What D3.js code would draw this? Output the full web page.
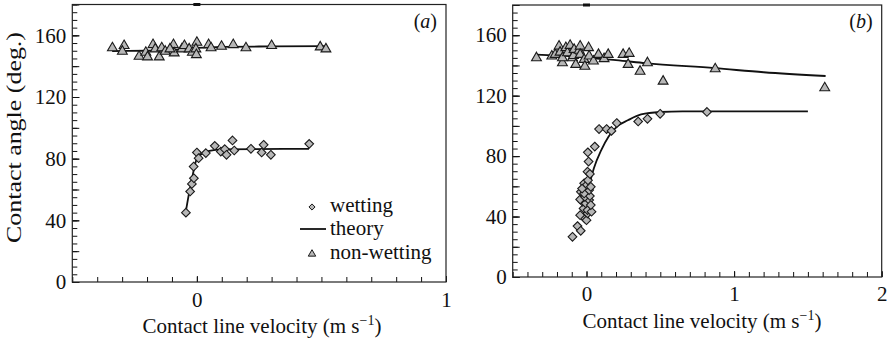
<!DOCTYPE html>
<html><head><meta charset="utf-8">
<script src="https://cdn.jsdelivr.net/npm/d3@7"></script>
<style>
html,body{margin:0;padding:0;background:#fff;}
svg{display:block;}
text{font-family:"Liberation Serif","Times New Roman",serif;fill:#111;}
</style></head>
<body>
<svg id="chart" width="887" height="342"></svg>
<script>
// ---------- data ----------
const yTickLabels = [0, 40, 80, 120, 160];
const xTickLabelsA = [0, 1];
const xTickLabelsB = [0, 1, 2];
const legendLabels = ["wetting", "theory", "non-wetting"];

// panel (a)
const wettingA = [[-0.044,45.0],[-0.027,58.7],[-0.020,63.6],[-0.012,67.3],[-0.013,74.9],[0.000,84.0],[0.007,80.3],[0.036,83.6],[0.072,88.3],[0.096,84.6],[0.112,86.2],[0.119,82.5],[0.143,91.8],[0.150,85.3],[0.217,86.4],[0.260,84.0],[0.268,89.0],[0.297,82.5],[0.451,89.6]];
const nonWettingA = [[-0.339,151.8],[-0.292,153.3],[-0.299,149.6],[-0.232,146.3],[-0.205,148.9],[-0.176,153.9],[-0.198,145.9],[-0.167,151.1],[-0.151,145.9],[-0.141,151.8],[-0.127,149.6],[-0.094,153.9],[-0.091,148.5],[-0.108,151.1],[-0.060,151.1],[-0.050,153.3],[-0.031,151.1],[-0.018,148.9],[0.000,155.4],[-0.004,151.1],[-0.002,147.4],[0.047,153.9],[0.057,151.8],[0.099,152.8],[0.146,153.9],[0.197,151.8],[0.300,153.3],[0.495,152.4],[0.518,151.1]];
const theoryWetA = [[-0.045,45],[-0.032,57],[-0.022,65],[-0.012,73],[0.000,80],[0.02,83],[0.05,85],[0.10,86],[0.45,86.4]];
const theoryNonA = [[-0.34,149.8],[-0.2,150],[-0.1,150.5],[0.0,151.8],[0.1,152.5],[0.3,152.8],[0.52,153]];

// panel (b)
const wettingB = [[-0.095,26.6],[-0.061,33.7],[-0.039,30.6],[-0.012,38.8],[0.000,37.6],[-0.043,40.9],[0.007,42.1],[-0.020,45.4],[0.007,44.3],[0.034,43.2],[-0.027,49.8],[-0.005,48.7],[0.018,50.9],[0.029,47.6],[-0.043,51.3],[-0.011,53.1],[0.023,53.6],[-0.038,56.4],[-0.016,55.3],[0.018,57.5],[-0.016,62.0],[0.002,60.9],[0.029,59.7],[-0.030,58.5],[0.010,64.0],[0.007,69.7],[0.023,68.2],[0.014,76.4],[0.009,82.5],[0.056,86.3],[0.085,97.9],[0.136,97.9],[0.169,96.7],[0.205,101.9],[0.350,102.9],[0.413,104.7],[0.499,108.0],[0.816,109.2]];
const nonWettingB = [[-0.339,145.0],[-0.235,146.1],[-0.212,147.2],[-0.186,152.7],[-0.179,148.7],[-0.163,141.7],[-0.163,145.0],[-0.140,151.7],[-0.129,148.3],[-0.111,153.2],[-0.095,145.0],[-0.088,146.5],[-0.084,150.5],[-0.073,140.6],[-0.050,150.0],[-0.043,152.7],[-0.043,147.2],[-0.016,143.9],[-0.011,139.4],[0.014,151.7],[0.018,146.1],[0.047,142.8],[0.081,147.2],[0.119,144.4],[0.147,147.2],[0.248,147.2],[0.289,147.9],[0.282,140.6],[0.363,136.1],[0.413,141.7],[0.519,129.5],[0.872,137.7],[1.614,125.1]];
const theoryWetB = [[0.005,55],[0.015,60],[0.03,65],[0.05,72],[0.1,84],[0.15,93],[0.21,99.8],[0.28,103.7],[0.37,107.6],[0.5,109.2],[0.65,109.6],[1.5,109.6]];
const theoryNonB = [[-0.34,147.2],[-0.1,146],[0.0,145],[0.2,143.5],[0.4,141.5],[0.87,138.2],[1.2,135.5],[1.62,133]];

// ---------- drawing ----------
const svg = d3.select("#chart");
const FILL = "#b7b7b7", STROKE = "#1a1a1a";
const FS = 21;

function drawPanel(cfg) {
  const x = d3.scaleLinear().domain(cfg.xDomain).range([cfg.left, cfg.right]);
  const y = d3.scaleLinear().domain([0, 180]).range([cfg.bottom, cfg.top]);
  const g = svg.append("g");

  const xMinor = d3.range(Math.round(cfg.xDomain[0]*10), Math.round(cfg.xDomain[1]*10)+1).map(v => v/10);
  const yMinor = d3.range(0, 181, 5);
  g.append("g").attr("transform", `translate(0,${cfg.bottom})`)
    .call(d3.axisBottom(x).tickValues(xMinor).tickSize(-5).tickFormat(""))
    .call(s => s.select(".domain").remove());
  g.append("g").attr("transform", `translate(${cfg.left},0)`)
    .call(d3.axisLeft(y).tickValues(yMinor).tickSize(-5).tickFormat(""))
    .call(s => s.select(".domain").remove());
  g.append("g").attr("transform", `translate(${cfg.left},0)`)
    .call(d3.axisLeft(y).tickValues(d3.range(0,181,20)).tickSize(-7).tickFormat(""))
    .call(s => s.select(".domain").remove());

  const xa = g.append("g").attr("transform", `translate(0,${cfg.bottom})`)
    .call(d3.axisBottom(x).tickValues(cfg.xLabels).tickSize(-6).tickPadding(cfg.xPad).tickFormat(d3.format("d")));
  xa.select(".domain").remove();
  const ya = g.append("g").attr("transform", `translate(${cfg.left},0)`)
    .call(d3.axisLeft(y).tickValues(yTickLabels).tickSize(-7).tickPadding(6).tickFormat(d3.format("d")));
  ya.select(".domain").remove();
  g.selectAll(".tick line").attr("stroke", "#111").attr("stroke-width", 1);
  g.selectAll(".tick text").attr("font-family", "Liberation Serif").attr("font-size", FS).attr("fill", "#111");

  g.append("rect").attr("x", cfg.left).attr("y", cfg.top)
    .attr("width", cfg.right - cfg.left).attr("height", cfg.bottom - cfg.top)
    .attr("fill", "none").attr("stroke", "#222").attr("stroke-width", 1.2);
  g.append("rect").attr("x", x(0) - 3.5).attr("y", cfg.top - 1.5).attr("width", 7).attr("height", 3).attr("fill", "#111");

  const line = d3.line().x(d => x(d[0])).y(d => y(d[1])).curve(d3.curveMonotoneX);
  [cfg.theoryWet, cfg.theoryNon].forEach(data => {
    g.append("path").datum(data).attr("d", line)
      .attr("fill", "none").attr("stroke", "#111").attr("stroke-width", 1.8);
  });

  const diamond = d3.symbol().type(d3.symbolDiamond2).size(48);
  const tri = d3.symbol().type(d3.symbolTriangle).size(42);
  g.append("g").selectAll("path").data(cfg.nonWet).join("path")
    .attr("d", tri).attr("transform", d => `translate(${x(d[0])},${y(d[1])})`)
    .attr("fill", FILL).attr("stroke", STROKE).attr("stroke-width", 1.1);
  g.append("g").selectAll("path").data(cfg.wet).join("path")
    .attr("d", diamond).attr("transform", d => `translate(${x(d[0])},${y(d[1])})`)
    .attr("fill", FILL).attr("stroke", STROKE).attr("stroke-width", 1.1);

  const pl = g.append("text").attr("x", cfg.right - 9).attr("y", 28).attr("text-anchor", "end")
    .attr("font-size", 20);
  pl.append("tspan").text("(");
  pl.append("tspan").attr("font-style", "italic").text(cfg.tag);
  pl.append("tspan").text(")");

  const xt = g.append("text").attr("x", cfg.xTitleX).attr("y", cfg.xTitleY)
    .attr("text-anchor", "middle").attr("font-size", FS);
  xt.append("tspan").text("Contact line velocity (m s");
  xt.append("tspan").attr("font-size", 14).attr("dy", -8).text("\u22121");
  xt.append("tspan").attr("dy", 8).text(")");
  return {x, y, g};
}

drawPanel({left: 72.3, right: 446, top: 4.5, bottom: 282, xDomain: [-0.5, 1], xLabels: xTickLabelsA, xPad: 10,
  wet: wettingA, nonWet: nonWettingA, theoryWet: theoryWetA, theoryNon: theoryNonA, tag: "a", xTitleX: 262, xTitleY: 333});
drawPanel({left: 512.7, right: 881.7, top: 5, bottom: 277, xDomain: [-0.5, 2], xLabels: xTickLabelsB, xPad: 9,
  wet: wettingB, nonWet: nonWettingB, theoryWet: theoryWetB, theoryNon: theoryNonB, tag: "b", xTitleX: 702, xTitleY: 328});

svg.append("text").attr("transform", "translate(21,137.5) rotate(-90)")
  .attr("text-anchor", "middle").attr("font-size", 21)
  .attr("textLength", 211).attr("lengthAdjust", "spacingAndGlyphs")
  .text("Contact angle (deg.)");

const lg = svg.append("g");
lg.append("path").attr("d", d3.symbol().type(d3.symbolDiamond2).size(24)())
  .attr("transform", "translate(312,207)").attr("fill", FILL).attr("stroke", STROKE).attr("stroke-width", 1);
lg.append("line").attr("x1", 300).attr("x2", 326).attr("y1", 229).attr("y2", 229).attr("stroke", "#111").attr("stroke-width", 1.8);
lg.append("path").attr("d", d3.symbol().type(d3.symbolTriangle).size(24)())
  .attr("transform", "translate(312,254)").attr("fill", FILL).attr("stroke", STROKE).attr("stroke-width", 1);
[[212, legendLabels[0]], [235, legendLabels[1]], [259, legendLabels[2]]].forEach(([yy, t]) => {
  lg.append("text").attr("x", 330).attr("y", yy).attr("font-size", FS).text(t);
});
</script>
</body></html>
